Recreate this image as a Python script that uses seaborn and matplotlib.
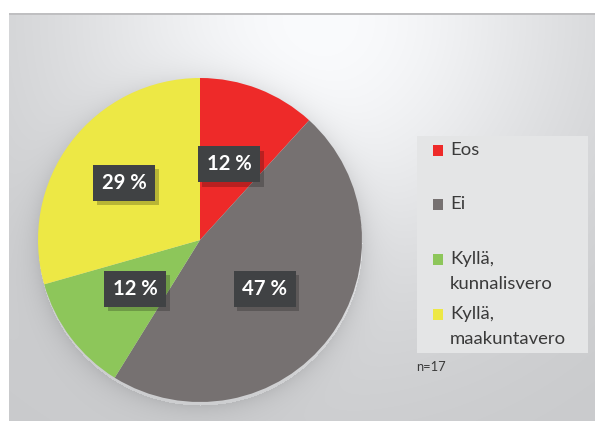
import numpy as np
import matplotlib
matplotlib.use("Agg")
import matplotlib.pyplot as plt
from matplotlib.patches import Rectangle
import seaborn as sns

# Survey answers (n=17)
categories = ["Eos", "Ei", "Kyllä,\nkunnalisvero", "Kyllä,\nmaakuntavero"]
counts = [2, 8, 2, 5]
n_label = "n=17"

sns.set_theme(style="white")
plt.rcParams["font.family"] = ["Lato", "DejaVu Sans"]

colors = sns.color_palette(["#EE2A29", "#767171", "#8DC65A", "#EDE845"])

W, H = 595, 421
fig = plt.figure(figsize=(W / 100, H / 100), dpi=100)

# --- soft grey panel background with a light spot near the top ---
yy, xx = np.mgrid[0:H, 0:W].astype(float)
d = np.hypot(xx - 320, yy - 20)
v = 200 + 50 * np.exp(-(d / 270) ** 2)
# faint shadow around the pie
cx, cy, R = 200, 240, 162
dp = np.hypot(xx - cx, yy - (cy + 3))
v -= np.where(dp > R, 22 * np.exp(-(dp - R) / 12), 0)
img = np.stack([v, v + 1, v + 3], axis=-1) / 255.0
img = np.clip(img, 0, 1)
img[:13, :, :] = 1.0
img[:, :9, :] = 1.0
img[13:15, 9:, :] = np.array([0.75, 0.75, 0.76])
bg = fig.add_axes([0, 0, 1, 1])
bg.imshow(img, extent=(0, W, H, 0), aspect="auto", interpolation="bilinear")
bg.set_xlim(0, W)
bg.set_ylim(H, 0)
bg.axis("off")

# --- pie ---
ax = fig.add_axes([(cx - R) / W, (H - cy - R) / H, 2 * R / W, 2 * R / H])
ax.pie(counts, colors=colors, startangle=90, counterclock=False, radius=1,
       wedgeprops=dict(linewidth=0))
ax.set_xlim(-1, 1)
ax.set_ylim(-1, 1)
ax.set_aspect("auto")
ax.axis("off")

total = sum(counts)
label_r = [0.5, 0.5, 0.5, 0.585]
bw, bh = 62 / R, 36 / R
start = 90.0
for val, r in zip(counts, label_r):
    sweep = 360.0 * val / total
    mid = np.deg2rad(start - sweep / 2)
    start -= sweep
    x, y = r * np.cos(mid), r * np.sin(mid)
    ax.add_patch(Rectangle((x - bw / 2 + 0.02, y - bh / 2 - 0.025), bw, bh,
                           fc="black", ec="none", alpha=0.22, zorder=4))
    ax.add_patch(Rectangle((x - bw / 2, y - bh / 2), bw, bh,
                           fc="#404244", ec="none", zorder=5))
    ax.text(x, y, f"{round(100 * val / total)} %", ha="center", va="center",
            color="white", fontsize=14.6, fontweight="bold", zorder=6)

# --- legend ---
def fx(px):
    return px / W


def fy(py):
    return 1 - py / H


fig.patches.append(Rectangle((fx(417), fy(353)), (588 - 417) / W, (353 - 136) / H,
                             transform=fig.transFigure, fc="#E4E5E6", ec="none",
                             zorder=1))
entry_y = [150, 204, 259, 314.5]
line_gap = 25
for cat, col, ey in zip(categories, colors, entry_y):
    fig.patches.append(Rectangle((fx(433), fy(ey + 5.5)), 10 / W, 11 / H,
                                 transform=fig.transFigure, fc=col, ec="none",
                                 zorder=2))
    for i, line in enumerate(cat.split("\n")):
        fig.text(fx(450), fy(ey + i * line_gap), line, ha="left", va="center",
                 fontsize=13.3, color="#3A3A3A", zorder=3)

fig.text(fx(416), fy(367), n_label, ha="left", va="center", fontsize=9.3,
         color="#3A3A3A")

fig.savefig("out.png", dpi=100)
